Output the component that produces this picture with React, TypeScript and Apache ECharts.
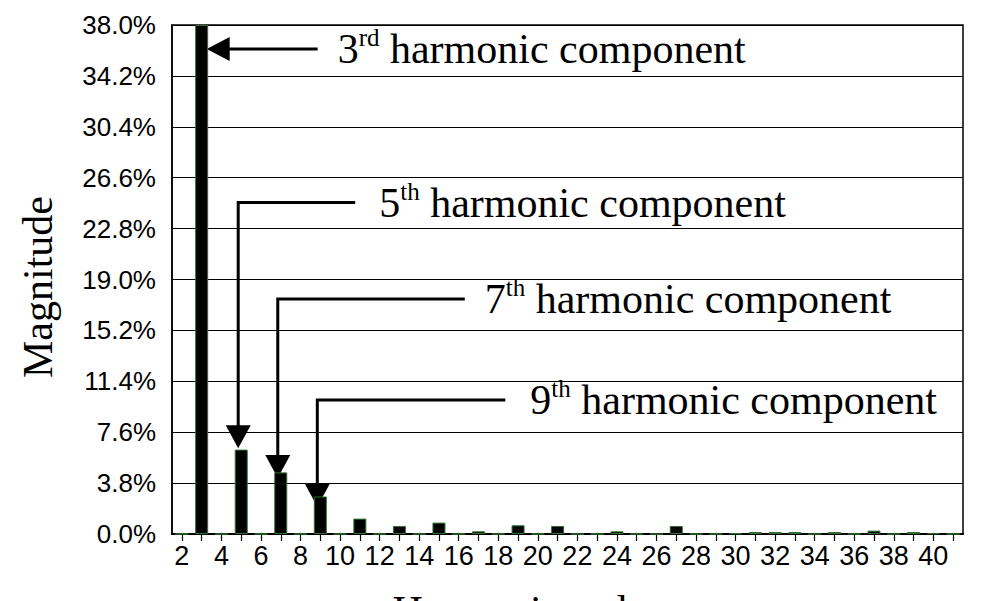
import { useEffect, useRef } from 'react'
import * as echarts from 'echarts'

// harmonic order on the category axis
const harmonicOrders = [
  '2', '3', '4', '5', '6', '7', '8', '9', '10', '11',
  '12', '13', '14', '15', '16', '17', '18', '19', '20', '21',
  '22', '23', '24', '25', '26', '27', '28', '29', '30', '31',
  '32', '33', '34', '35', '36', '37', '38', '39', '40', '41',
]

// magnitude in % of the fundamental
const magnitudes = [
  0, 38.0, 0, 6.3, 0, 4.6, 0, 2.8, 0, 1.15,
  0, 0.6, 0, 0.85, 0, 0.2, 0, 0.65, 0, 0.6,
  0, 0, 0.2, 0, 0, 0.6, 0, 0, 0.05, 0.15,
  0.15, 0.15, 0, 0.15, 0, 0.25, 0, 0.15, 0.05, 0,
]

// callouts
const annotatedOrders = ['3', '5', '7', '9']
const ordinalSuffixes = ['rd', 'th', 'th', 'th']
const elbowValues = [36.2, 24.74, 17.55, 10.0]
const arrowTipValues = [36.2, 6.4, 4.18, 2.04]

const SANS = '"Liberation Sans", Arial, sans-serif'
const SERIF = '"Liberation Serif", "Times New Roman", serif'

// leader line length and gap before the label, in px
const leaderLengths = [111, 117, 187, 188]
const labelGaps = [20, 24, 20, 25]

export default function App() {
  const chartRef = useRef<HTMLDivElement | null>(null)

  useEffect(() => {
    if (!chartRef.current) {
      return
    }
    document.body.style.margin = '0'

    const chart = echarts.init(chartRef.current, undefined, { renderer: 'svg' })

    chart.setOption({
      animation: false,
      grid: {
        left: 172,
        right: 35,
        top: 25,
        bottom: 67,
        show: true,
        borderColor: '#000',
        borderWidth: 1.5,
      },
      xAxis: {
        type: 'category',
        data: harmonicOrders,
        axisLine: { lineStyle: { color: '#000', width: 2 } },
        axisTick: {
          show: true,
          interval: 0,
          alignWithLabel: true,
          length: 7,
          lineStyle: { color: '#000', width: 1.2 },
        },
        axisLabel: {
          interval: 1,
          color: '#000',
          fontSize: 27,
          fontFamily: SANS,
          margin: 8,
        },
      },
      yAxis: {
        type: 'value',
        min: 0,
        max: 38,
        interval: 3.8,
        axisLine: { show: true, lineStyle: { color: '#000', width: 1.5 } },
        axisTick: { show: false },
        splitLine: { lineStyle: { color: '#000', width: 1 } },
        axisLabel: {
          color: '#000',
          fontSize: 26,
          fontFamily: SANS,
          margin: 16,
          formatter: (v: number) => v.toFixed(1) + '%',
        },
      },
      series: [
        {
          type: 'bar',
          data: magnitudes,
          barWidth: 13,
          itemStyle: {
            color: '#000',
            borderColor: '#2f6f2f',
            borderWidth: 1,
          },
        },
      ],
    })

    const toPx = (order: string, value: number) =>
      chart.convertToPixel({ xAxisIndex: 0, yAxisIndex: 0 }, [
        harmonicOrders.indexOf(order),
        value,
      ]) as number[]

    const elements: any[] = []
    annotatedOrders.forEach((order, i) => {
      const [barX, elbowY] = toPx(order, elbowValues[i])
      let lineEndX: number
      if (i === 0) {
        // horizontal arrow pointing at the tall bar
        const tipX = barX + 5
        lineEndX = tipX + leaderLengths[i]
        elements.push({
          type: 'polyline',
          shape: { points: [[tipX + 20, elbowY], [lineEndX, elbowY]] },
          style: { stroke: '#000', lineWidth: 3, fill: null },
        })
        elements.push({
          type: 'polygon',
          shape: {
            points: [[tipX, elbowY], [tipX + 23, elbowY - 12], [tipX + 23, elbowY + 12]],
          },
          style: { fill: '#000' },
        })
      } else {
        const x = barX - 3
        const [, tipY] = toPx(order, arrowTipValues[i])
        lineEndX = x + leaderLengths[i]
        elements.push({
          type: 'polyline',
          shape: { points: [[lineEndX, elbowY], [x, elbowY], [x, tipY - 20]] },
          style: { stroke: '#000', lineWidth: 3, fill: null },
        })
        elements.push({
          type: 'polygon',
          shape: { points: [[x - 12.5, tipY - 23], [x + 12.5, tipY - 23], [x, tipY]] },
          style: { fill: '#000' },
        })
      }
      elements.push({
        type: 'text',
        x: lineEndX + labelGaps[i],
        y: elbowY + 17 - 41,
        style: {
          text: `{n|${order}}{s|${ordinalSuffixes[i]}}{n| harmonic component}`,
          align: 'left',
          verticalAlign: 'top',
          rich: {
            n: { fontSize: 42, lineHeight: 42, fontFamily: SERIF, color: '#000', padding: [6, 0, 0, 0] },
            s: { fontSize: 25, lineHeight: 25, fontFamily: SERIF, color: '#000', verticalAlign: 'top' },
          },
        },
      })
    })

    elements.push({
      type: 'text',
      x: 38,
      y: 287,
      rotation: Math.PI / 2,
      style: {
        text: 'Magnitude',
        fontSize: 42,
        fontFamily: SERIF,
        fill: '#000',
        align: 'center',
        verticalAlign: 'middle',
      },
    })
    elements.push({
      type: 'text',
      x: 526,
      y: 611,
      style: {
        text: 'Harmonic order',
        fontSize: 42,
        fontFamily: SERIF,
        fill: '#000',
        align: 'center',
        verticalAlign: 'middle',
      },
    })

    chart.setOption({ graphic: { elements } })

    return () => {
      chart.dispose()
    }
  }, [])

  return <div ref={chartRef} style={{ width: 998, height: 601 }} />
}
